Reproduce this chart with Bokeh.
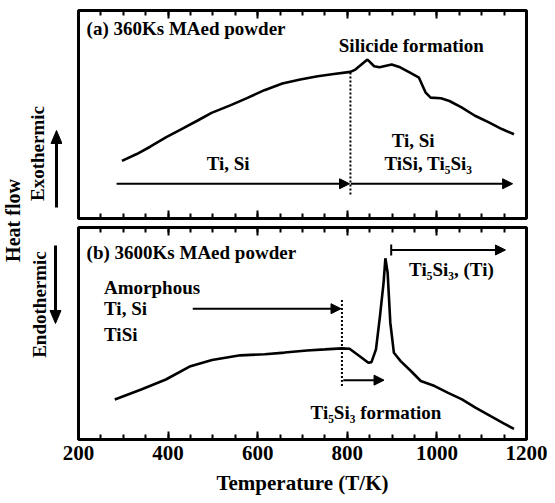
import math
from bokeh.plotting import figure
from bokeh.models import (Range1d, LinearAxis, SingleIntervalTicker, Arrow,
                          NormalHead, TeeHead, CustomJSTickFormatter)
from bokeh.layouts import row, column
from bokeh.embed import file_html
from bokeh.resources import INLINE
from bokeh.core.properties import value

FONT = "Liberation Serif"

# ---------------- data ----------------
# (a) 360 ks MA'ed powder : temperature (K) and normalised heat flow
temp_a = [297, 330, 360, 395, 430, 465, 497, 540, 576, 615, 655, 695, 734, 770,
          807, 818, 845, 860, 872, 899, 918, 941, 960, 975, 986, 1009, 1028,
          1055, 1085, 1116, 1145, 1172]
flow_a = [0.277, 0.31, 0.345, 0.39, 0.43, 0.47, 0.508, 0.545, 0.579, 0.617,
          0.649, 0.668, 0.684, 0.695, 0.705, 0.716, 0.764, 0.732, 0.727, 0.740,
          0.727, 0.700, 0.677, 0.605, 0.581, 0.578, 0.565, 0.534, 0.494, 0.462,
          0.43, 0.405]

# (b) 3600 ks MA'ed powder
temp_b = [281, 340, 395, 450, 498, 561, 616, 660, 710, 750, 788, 805, 827, 847,
          854, 864, 873, 881, 885, 890, 896, 904, 919, 942, 964, 995, 1025, 1056,
          1086, 1120, 1150, 1172]
flow_b = [0.189, 0.236, 0.283, 0.346, 0.375, 0.397, 0.402, 0.41, 0.42, 0.425,
          0.43, 0.428, 0.394, 0.362, 0.365, 0.425, 0.583, 0.74, 0.855, 0.787,
          0.551, 0.409, 0.37, 0.323, 0.276, 0.252, 0.22, 0.189, 0.15, 0.11,
          0.075, 0.05]

# phase boundaries (K)
boundary_a = 807
boundary_b = 788

# phase-range arrows (K)
arrows_a_start = [285, 808]
arrows_a_end = [805, 1169]
arrows_b_start = [455, 791, 898]
arrows_b_end = [786, 882, 1153]

labels_a = ["(a) 360Ks MAed powder", "Silicide formation", "Ti, Si", "Ti, Si",
            "TiSi, Ti\u2085Si\u2083"]
labels_b = ["(b) 3600Ks MAed powder", "Ti\u2085Si\u2083, (Ti)", "Amorphous",
            "Ti, Si", "TiSi", "Ti\u2085Si\u2083 formation"]

x_tick_interval = 200
x_label = "Temperature (T/K)"
side_labels = ["Heat flow", "Exothermic", "Endothermic"]

# ---------------- helpers ----------------
def tick_axis(p, place, labelled=False):
    ax = LinearAxis(ticker=SingleIntervalTicker(interval=x_tick_interval, num_minor_ticks=4),
                    axis_line_color=None,
                    major_tick_in=8, major_tick_out=0,
                    minor_tick_in=5, minor_tick_out=0,
                    major_tick_line_width=2, minor_tick_line_width=2,
                    major_tick_line_color="black", minor_tick_line_color="black")
    if labelled:
        ax.major_label_text_font = FONT
        ax.major_label_text_font_style = "bold"
        ax.major_label_text_font_size = "21px"
        ax.major_label_text_color = "black"
        ax.major_label_standoff = 6
        ax.axis_label = x_label
        ax.axis_label_text_font = FONT
        ax.axis_label_text_font_style = "bold"
        ax.axis_label_text_font_size = "21px"
        ax.axis_label_text_color = "black"
        ax.axis_label_standoff = 8
    else:
        ax.formatter = CustomJSTickFormatter(code="return '';")
        ax.major_label_text_font_size = "1px"
        ax.major_label_standoff = 0
    p.add_layout(ax, place)


def panel(frame_h, top, bottom):
    p = figure(frame_width=448, frame_height=frame_h,
               x_range=Range1d(200, 1200), y_range=Range1d(0, 1),
               x_axis_location=None, y_axis_location=None,
               toolbar_location=None, output_backend="svg",
               min_border_left=16, min_border_right=27,
               min_border_top=top, min_border_bottom=bottom)
    p.outline_line_color = "black"
    p.outline_line_width = 3
    p.background_fill_color = "white"
    p.border_fill_color = "white"
    p.grid.visible = False
    return p


def txt(p, x, y, s, size="19px", align="left", angle=0.0):
    p.text(x=[x], y=[y], text=[s], angle=angle,
           text_font=value(FONT), text_font_style="bold",
           text_font_size=size, text_align=align, text_baseline="middle",
           text_color="black")


def arrow(p, x0, y0, x1, y1, tee=False, size=10, width=2):
    a = Arrow(x_start=x0, y_start=y0, x_end=x1, y_end=y1, line_width=width,
              line_color="black",
              end=NormalHead(size=size, fill_color="black", line_color="black", line_width=1))
    if tee:
        a.start = TeeHead(size=11, line_width=2, line_color="black")
    p.add_layout(a)

# ---------------- panel (a) ----------------
pa = panel(208, 10, 4)
tick_axis(pa, "above")
tick_axis(pa, "below")
pa.line(temp_a, flow_a, line_color="black", line_width=2.6)
pa.segment(x0=[boundary_a], y0=[0.115], x1=[boundary_a], y1=[0.704],
           line_color="black", line_width=2, line_dash="2 2")
for xs, xe in zip(arrows_a_start, arrows_a_end):
    arrow(pa, xs, 0.167, xe, 0.167)
txt(pa, 218, 0.915, labels_a[0])
txt(pa, 781, 0.83, labels_a[1])
txt(pa, 486, 0.264, labels_a[2])
txt(pa, 899, 0.374, labels_a[3])
txt(pa, 883, 0.264, labels_a[4])

# ---------------- panel (b) ----------------
pb = panel(212, 5, 0)
tick_axis(pb, "above")
tick_axis(pb, "below", labelled=True)
pb.line(temp_b, flow_b, line_color="black", line_width=2.6)
pb.segment(x0=[boundary_b], y0=[0.252], x1=[boundary_b], y1=[0.661],
           line_color="black", line_width=2, line_dash="2 2")
arrow(pb, arrows_b_start[0], 0.617, arrows_b_end[0], 0.617)
arrow(pb, arrows_b_start[1], 0.28, arrows_b_end[1], 0.28)
arrow(pb, arrows_b_start[2], 0.894, arrows_b_end[2], 0.894, tee=True)
txt(pb, 218, 0.88, labels_b[0])
txt(pb, 938, 0.803, labels_b[1])
txt(pb, 257, 0.717, labels_b[2])
txt(pb, 257, 0.617, labels_b[3])
txt(pb, 257, 0.496, labels_b[4])
txt(pb, 718, 0.129, labels_b[5])

# ---------------- left decoration (heat-flow label and direction arrows) ----------------
H = 499
pl = figure(width=62, height=H, x_range=Range1d(0, 62), y_range=Range1d(0, H),
            x_axis_location=None, y_axis_location=None, min_border=0,
            toolbar_location=None, output_backend="svg")
pl.outline_line_color = None
pl.grid.visible = False
pl.background_fill_color = "white"
pl.border_fill_color = "white"
txt(pl, 12, H - 220, side_labels[0], size="20px", align="center", angle=math.pi / 2)
txt(pl, 36.5, H - 153, side_labels[1], size="19px", align="center", angle=math.pi / 2)
txt(pl, 38.5, H - 304, side_labels[2], size="19px", align="center", angle=math.pi / 2)


def vertical_arrow(p, x, y_from, y_to, head_len=13, half_w=5.5, width=3):
    direction = 1 if y_to > y_from else -1
    base = y_to - direction * head_len
    p.segment(x0=[x], y0=[y_from], x1=[x], y1=[base + direction * 1],
              line_color="black", line_width=width)
    p.patch(x=[x - half_w, x + half_w, x], y=[base, base, y_to],
            fill_color="black", line_color="black", line_width=1)


# exothermic: up, endothermic: down (canvas px, y measured from the bottom)
vertical_arrow(pl, 56, H - 207, H - 130)
vertical_arrow(pl, 55, H - 245, H - 323)

layout = row(pl, column(pa, pb))
open("out.html", "w").write(file_html(layout, INLINE))
